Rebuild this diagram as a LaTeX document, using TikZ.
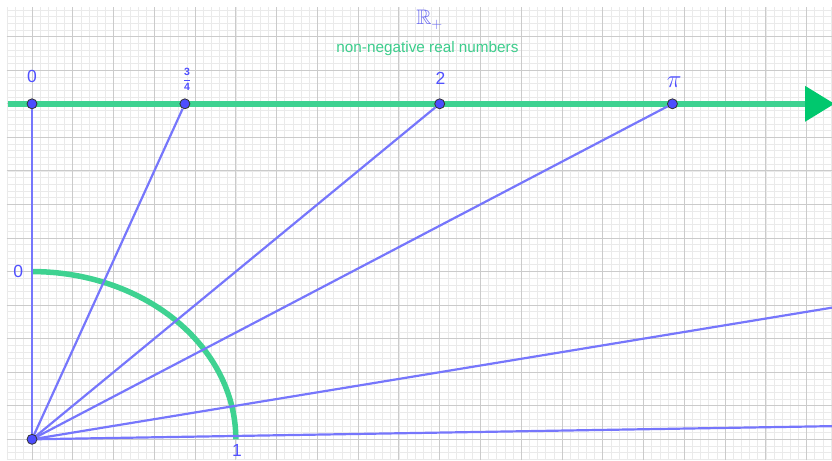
\documentclass[tikz,border=0pt]{standalone}
\usepackage{amssymb}
\usepackage{fontspec}
\setmainfont{Liberation Sans}
\definecolor{gridmajor}{RGB}{203,203,203}
\definecolor{gridminor}{RGB}{234,234,234}
\definecolor{segblue}{RGB}{118,118,252}
\definecolor{ptblue}{RGB}{77,77,255}
\definecolor{lblblue}{RGB}{80,80,255}
\definecolor{rblue}{RGB}{110,110,240}
\definecolor{gline}{RGB}{62,210,145}
\definecolor{ghead}{RGB}{0,200,110}
\definecolor{gtext}{RGB}{60,205,140}
\tikzset{
  minorgrid/.style={gridminor, line width=0.7pt},
  majorgrid/.style={gridmajor, line width=1pt},
  seg/.style={segblue, line width=2.2pt},
  axisline/.style={gline, line width=6pt},
  arcline/.style={gline, line width=5.5pt},
  pt/.style={circle, fill=ptblue, draw=black!80, line width=0.8pt, inner sep=0pt, minimum size=10pt},
  lbl/.style={text=lblblue, inner sep=0pt, font=\fontsize{17.5}{20}\selectfont}
}
\begin{document}
\begin{tikzpicture}[x=40.77pt, y=33.55pt]
\useasboundingbox (-0.7849,-0.617) rectangle (19.622,13.094);
\clip (-0.7849,-0.617) rectangle (19.622,13.094);
% grid
\foreach \i in {-3,...,98} {
  \draw[minorgrid] (\i/5,-0.617) -- (\i/5,12.88);
}
\foreach \j in {-3,...,64} {
  \draw[minorgrid] (-0.62,\j/5) -- (19.622,\j/5);
}
\foreach \i in {0,...,19} {
  \draw[majorgrid] (\i,-0.617) -- (\i,12.88);
}
\foreach \j in {0,...,12} {
  \draw[majorgrid] (-0.62,\j) -- (19.622,\j);
}
% coordinates
\coordinate (O) at (0,0);
\coordinate (axL) at (-0.6,10);
\coordinate (axR) at (18.96,10);
\coordinate (tipA) at (18.96,10.536);
\coordinate (tipB) at (19.68,10);
\coordinate (tipC) at (18.96,9.464);
\coordinate (q10) at (19.622,3.9244);
\coordinate (q100) at (19.622,0.39244);
% axis
\draw[axisline] (axL) -- (axR);
\fill[ghead] (tipA) -- (tipB) -- (tipC) -- cycle;
% arc
\draw[arcline] plot[domain=90:0, samples=80, smooth] ({5*cos(\x)},{5*sin(\x)});
% points on the axis
\node[pt] (p0) at (0,10) {};
\node[pt] (p34) at (3.75,10) {};
\node[pt] (p2) at (10,10) {};
\node[pt] (ppi) at (15.708,10) {};
% segments
\draw[seg] (O) -- (p0);
\draw[seg] (O) -- (p34);
\draw[seg] (O) -- (p2);
\draw[seg] (O) -- (ppi);
\draw[seg] (O) -- (q10);
\draw[seg] (O) -- (q100);
\node[pt] (pO) at (O) {};
% labels
\node[lbl] (l0) at (0,10.80) {0};
\node[lbl, font=\fontsize{10.5}{12}\selectfont] (l34) at (3.80,10.73) {$\displaystyle\frac{\mathbf{3}}{\mathbf{4}}$};
\node[lbl] (l2) at (10.02,10.76) {2};
\node[lbl, font=\fontsize{23}{26}\selectfont] (lpi) at (15.75,10.66) {$\pi$};
\node[lbl] (la0) at (-0.336,5.016) {0};
\node[lbl] (la1) at (5.03,-0.32) {1};
\node[text=rblue, inner sep=0pt, anchor=base west, font=\fontsize{21}{24}\selectfont] (lR) at (9.42,12.35) {$\mathbb{R}_+$};
\node[text=gtext, inner sep=0pt, font=\fontsize{15.3}{18}\selectfont] (ltxt) at (9.70,11.66) {non-negative real numbers};
\end{tikzpicture}
\end{document}
